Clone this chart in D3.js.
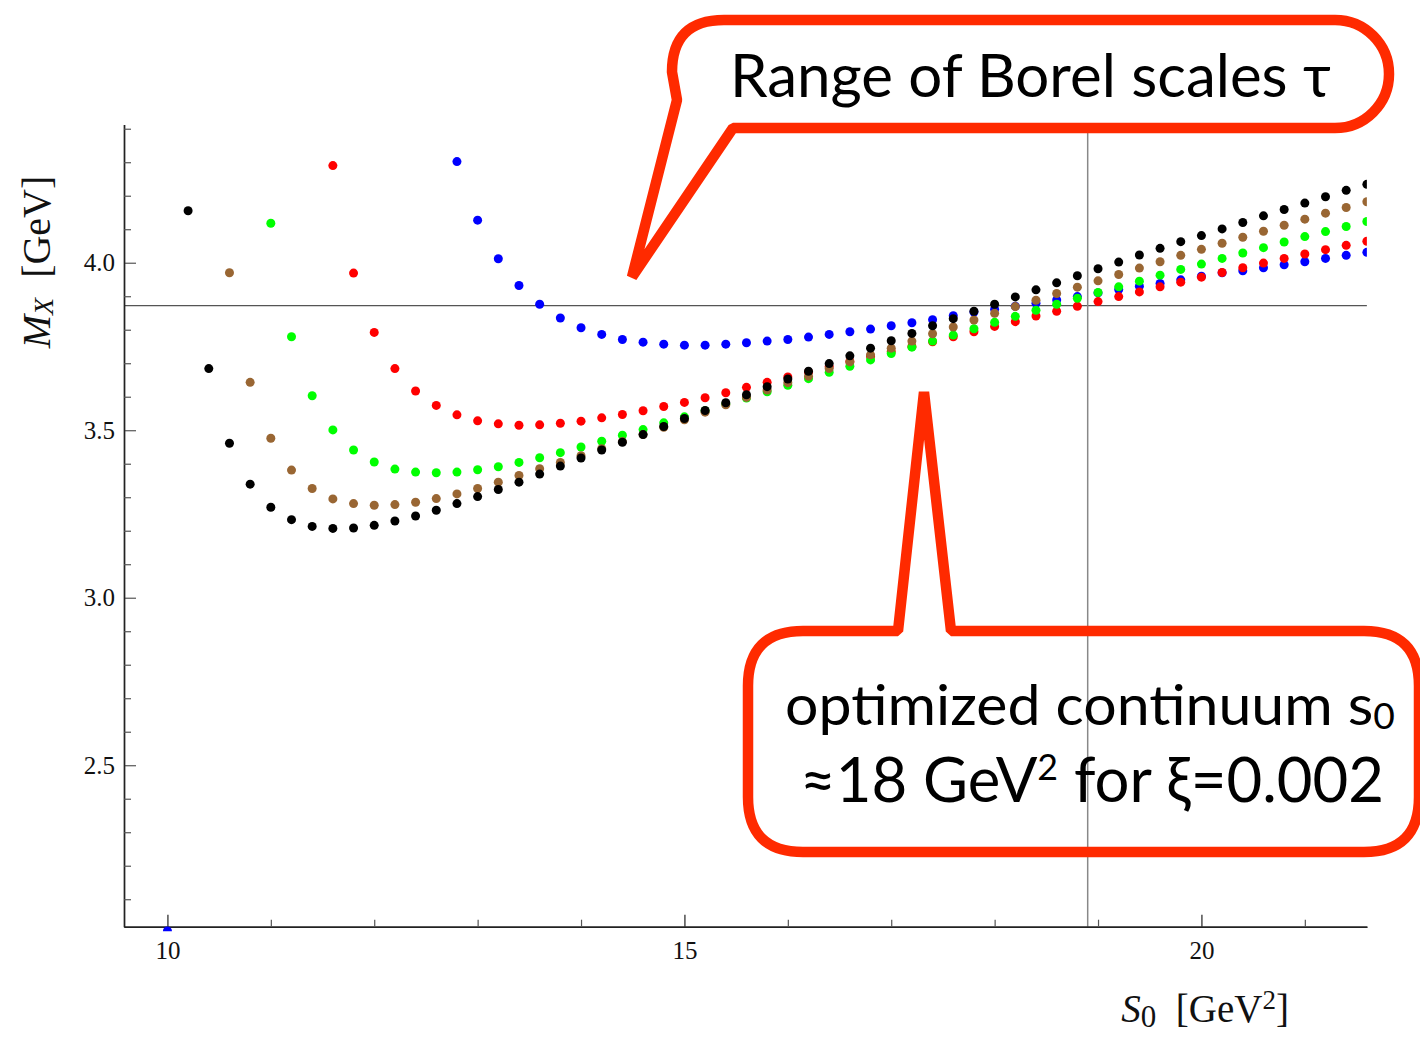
<!DOCTYPE html>
<html>
<head>
<meta charset="utf-8">
<script src="https://cdn.jsdelivr.net/npm/d3@7"></script>
<style>
  html, body { margin: 0; padding: 0; background: #fff; }
  svg { display: block; }
  text { white-space: pre; }
</style>
</head>
<body>
<svg id="chart" width="1420" height="1038"></svg>
<script>
// ---------- DATA ----------
const s0Grid = [10.2,10.4,10.6,10.8,11.0,11.2,11.4,11.6,11.8,12.0,12.2,12.4,12.6,12.8,13.0,13.2,13.4,13.6,13.8,14.0,
  14.2,14.4,14.6,14.8,15.0,15.2,15.4,15.6,15.8,16.0,16.2,16.4,16.6,16.8,17.0,17.2,17.4,17.6,17.8,18.0,
  18.2,18.4,18.6,18.8,19.0,19.2,19.4,19.6,19.8,20.0,20.2,20.4,20.6,20.8,21.0,21.2,21.4,21.6];

const seriesNames  = ["blue", "red", "green", "brown", "black"];
const seriesColors = ["#0000ff", "#ff0000", "#00ff00", "#996633", "#000000"];
const seriesStart  = [12.8, 11.6, 11.0, 10.6, 10.2];

const blueMX = [4.302,4.127,4.012,3.932,3.876,3.835,3.806,3.786,3.771,3.763,3.757,3.754,3.754,3.757,3.761,3.766,3.771,
  3.778,3.786,3.794,3.802,3.812,3.821,3.830,3.842,3.853,3.861,3.870,3.879,3.889,3.899,3.910,3.920,3.930,3.938,3.949,
  3.960,3.970,3.976,3.985,3.994,4.003,4.013,4.022,4.031];
const redMX = [4.290,3.969,3.792,3.684,3.617,3.574,3.546,3.528,3.519,3.515,3.516,3.521,3.527,3.537,3.547,3.558,3.571,
  3.583,3.597,3.612,3.628,3.643,3.659,3.674,3.690,3.705,3.720,3.735,3.750,3.764,3.779,3.794,3.810,3.824,3.841,3.855,
  3.870,3.884,3.899,3.913,3.928,3.942,3.957,3.971,3.985,3.999,4.013,4.026,4.039,4.052,4.064];
const greenMX = [4.118,3.779,3.603,3.501,3.441,3.405,3.384,3.375,3.373,3.375,3.382,3.391,3.404,3.418,3.433,3.450,3.467,
  3.485,3.502,3.522,3.540,3.558,3.578,3.596,3.615,3.634,3.654,3.673,3.691,3.710,3.729,3.748,3.766,3.784,3.803,3.822,
  3.840,3.858,3.876,3.894,3.911,3.928,3.945,3.963,3.980,3.996,4.013,4.029,4.045,4.062,4.078,4.093,4.108,4.123];
const brownMX = [3.970,3.643,3.476,3.381,3.326,3.295,3.281,3.276,3.278,3.285,3.296,3.310,3.326,3.345,3.365,3.385,3.404,
  3.424,3.445,3.466,3.487,3.509,3.531,3.554,3.576,3.598,3.620,3.642,3.661,3.684,3.704,3.725,3.745,3.766,3.788,3.808,
  3.829,3.849,3.869,3.888,3.908,3.927,3.946,3.965,3.984,4.003,4.022,4.040,4.058,4.076,4.094,4.112,4.130,4.148,4.165,4.182];
const blackMX = [4.155,3.684,3.461,3.339,3.270,3.233,3.213,3.207,3.208,3.216,3.229,3.244,3.261,3.281,3.302,3.323,3.345,
  3.369,3.393,3.417,3.441,3.464,3.487,3.511,3.535,3.559,3.582,3.606,3.630,3.653,3.676,3.699,3.722,3.745,3.767,3.789,
  3.812,3.833,3.855,3.876,3.898,3.919,3.940,3.961,3.982,4.002,4.023,4.043,4.063,4.081,4.101,4.120,4.140,4.159,4.178,
  4.197,4.216,4.234];
const seriesValues = [blueMX, redMX, greenMX, brownMX, blackMX];

// stray point at the origin corner
const strayPoint = { s0: 10.0, mx: 2.005, color: "#0000ff" };

const xDomain = [9.58, 21.6];
const yDomain = [2.018, 4.413];
const xMajorTicks = [10, 15, 20];
const xMinorTicks = [11, 12, 13, 14, 16, 17, 18, 19, 21];
const yMajorTicks = [2.5, 3.0, 3.5, 4.0];
const yMinorTicks = [2.1, 2.2, 2.3, 2.4, 2.6, 2.7, 2.8, 2.9, 3.1, 3.2, 3.3, 3.4, 3.6, 3.7, 3.8, 3.9, 4.1, 4.2, 4.3, 4.4];
const refLineMX = 3.872;
const refLineS0 = 18.9;

const calloutTop = "Range of Borel scales τ";
const calloutBottom1 = ["optimized continuum s", "0"];
const calloutBottom2 = ["≈18 GeV", "2", " for ξ=0.002"];

// ---------- SCALES ----------
const svg = d3.select("#chart");
const x = d3.scaleLinear().domain(xDomain).range([124, 124 + (xDomain[1] - xDomain[0]) * 103.4]);
const y = d3.scaleLinear().domain(yDomain).range([926.7, 926.7 - (yDomain[1] - yDomain[0]) * 335]);

const plotLeft = x(xDomain[0]), plotRight = x(xDomain[1]);
const plotBottom = y(yDomain[0]), plotTop = y(yDomain[1]);

svg.append("defs").append("clipPath").attr("id", "clip")
  .append("rect").attr("x", plotLeft).attr("y", plotTop - 6)
  .attr("width", plotRight - plotLeft).attr("height", plotBottom - plotTop + 10.5);

// reference lines
svg.append("line").attr("x1", plotLeft).attr("x2", plotRight)
  .attr("y1", y(refLineMX)).attr("y2", y(refLineMX))
  .attr("stroke", "#555").attr("stroke-width", 1.3);
svg.append("line").attr("x1", x(refLineS0)).attr("x2", x(refLineS0))
  .attr("y1", plotTop).attr("y2", plotBottom)
  .attr("stroke", "#888").attr("stroke-width", 1.5);

// ---------- AXES ----------
const axisFont = "'Liberation Serif', 'Times New Roman', serif";

const xAxisG = svg.append("g").attr("transform", `translate(0,${plotBottom})`)
  .call(d3.axisBottom(x).tickValues(xMajorTicks).tickSize(-12).tickSizeOuter(0).tickPadding(15).tickFormat(d3.format("d")));
const xMinorG = svg.append("g").attr("transform", `translate(0,${plotBottom})`)
  .call(d3.axisBottom(x).tickValues(xMinorTicks).tickSize(-7).tickSizeOuter(0).tickFormat(""));
const yAxisG = svg.append("g").attr("transform", `translate(${plotLeft},0)`)
  .call(d3.axisLeft(y).tickValues(yMajorTicks).tickSize(-12).tickSizeOuter(0).tickPadding(9).tickFormat(d3.format(".1f")));
const yMinorG = svg.append("g").attr("transform", `translate(${plotLeft},0)`)
  .call(d3.axisLeft(y).tickValues(yMinorTicks).tickSize(-7).tickSizeOuter(0).tickFormat(""));

[xAxisG, xMinorG, yAxisG, yMinorG].forEach(g => {
  g.select(".domain").attr("stroke", "#222").attr("stroke-width", 1.4);
  g.selectAll(".tick line").attr("stroke", "#555").attr("stroke-width", 1.2);
  g.selectAll(".tick text").attr("font-family", axisFont).attr("font-size", 25).attr("fill", "#111");
});
xAxisG.selectAll(".tick text").attr("dy", "0.71em");
xAxisG.selectAll(".tick line").attr("stroke", "#222");

// ---------- POINTS ----------
const pointsG = svg.append("g").attr("clip-path", "url(#clip)");
seriesNames.forEach((name, i) => {
  const startIdx = s0Grid.indexOf(seriesStart[i]);
  const pts = seriesValues[i].map((v, j) => ({ s0: s0Grid[startIdx + j], mx: v }));
  pointsG.append("g").attr("class", "series-" + name)
    .selectAll("circle").data(pts).join("circle")
    .attr("cx", d => x(d.s0)).attr("cy", d => y(d.mx))
    .attr("r", 4.5).attr("fill", seriesColors[i]);
});
pointsG.append("circle").attr("cx", x(strayPoint.s0)).attr("cy", y(strayPoint.mx))
  .attr("r", 4.5).attr("fill", strayPoint.color);

// ---------- AXIS LABELS ----------
const yl = svg.append("text").attr("transform", "translate(50,262) rotate(-90)")
  .attr("text-anchor", "middle").attr("font-family", axisFont).attr("font-size", 40).attr("fill", "#111");
yl.append("tspan").attr("font-style", "italic").text("M");
yl.append("tspan").attr("font-style", "italic").attr("font-size", 28).attr("dy", 3).text("X");
yl.append("tspan").attr("dy", -3).text("  [GeV]");

const xl = svg.append("text").attr("x", 1289).attr("y", 1022)
  .attr("text-anchor", "end").attr("font-family", axisFont).attr("font-size", 39).attr("fill", "#111");
xl.append("tspan").attr("font-style", "italic").text("S");
xl.append("tspan").attr("font-size", 31).attr("dy", 5).text("0");
xl.append("tspan").attr("dy", -5).text("  [GeV");
xl.append("tspan").attr("font-size", 27).attr("dy", -13).text("2");
xl.append("tspan").attr("dy", 13).text("]");

// ---------- CALLOUTS ----------
const calloutColor = "#ff2a00";
const calloutFont = "Lato, 'Open Sans', sans-serif";

svg.append("path")
  .attr("d", "M 677,100 L 632,277 L 733,128 L 1335,128 A 54 54 0 0 0 1389,74 A 54 54 0 0 0 1335,20 L 724,20 Q 672,20 672,72 Z")
  .attr("fill", "none").attr("stroke", calloutColor).attr("stroke-width", 10.5)
  .attr("stroke-linejoin", "bevel");

svg.append("text").attr("x", 730).attr("y", 97)
  .attr("font-family", calloutFont).attr("font-size", 60).attr("fill", "#000")
  .attr("textLength", 601).attr("lengthAdjust", "spacingAndGlyphs")
  .text(calloutTop);

svg.append("path")
  .attr("d", "M 898,631 L 924,392 L 951,631 L 1364,631 Q 1419,631 1419,686 L 1419,797 Q 1419,852 1364,852 L 803,852 Q 748,852 748,797 L 748,686 Q 748,631 803,631 Z")
  .attr("fill", "none").attr("stroke", calloutColor).attr("stroke-width", 10.5)
  .attr("stroke-linejoin", "bevel");

const b1 = svg.append("text").attr("x", 785).attr("y", 725)
  .attr("font-family", calloutFont).attr("font-size", 57).attr("fill", "#000")
  .attr("textLength", 610).attr("lengthAdjust", "spacingAndGlyphs");
b1.append("tspan").text(calloutBottom1[0]);
b1.append("tspan").attr("font-size", 36).attr("dy", 4).text(calloutBottom1[1]);

const b2 = svg.append("text").attr("x", 800).attr("y", 802)
  .attr("font-family", calloutFont).attr("font-size", 62).attr("fill", "#000")
  .attr("textLength", 584).attr("lengthAdjust", "spacingAndGlyphs");
b2.append("tspan").text(calloutBottom2[0]);
b2.append("tspan").attr("font-size", 36).attr("dy", -22).text(calloutBottom2[1]);
b2.append("tspan").attr("dy", 22).text(calloutBottom2[2]);
</script>
</body>
</html>
